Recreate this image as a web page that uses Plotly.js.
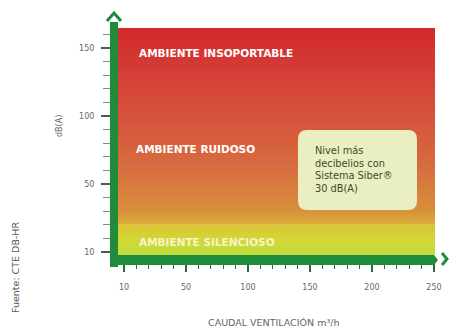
<!DOCTYPE html>
<html><head><meta charset="utf-8">
<script src="https://cdn.plot.ly/plotly-3.0.1.min.js"></script>
<style>html,body{margin:0;padding:0;background:#fff}#c{width:450px;height:328px}</style>
</head><body><div id="c"></div>
<script>
// Data
const xLabels = ['10', '50', '100', '150', '200', '250'];   // CAUDAL VENTILACIÓN m³/h
const yLabels = ['10', '50', '100', '150'];                 // dB(A)
const zoneNames = ['AMBIENTE SILENCIOSO', 'AMBIENTE RUIDOSO', 'AMBIENTE INSOPORTABLE'];
const noteLines = ['Nivel más', 'decibelios con', 'Sistema Siber®', '30 dB(A)'];

const W = 450, H = 328;
const M = {l: 118, r: 15, t: 28, b: 73};
const PW = W - M.l - M.r, PH = H - M.t - M.b;
const px = x => (x - M.l) / PW;         // pixel -> paper
const py = y => (H - M.b - y) / PH;

const xIdx = xLabels.map((_, i) => i);
const yIdx = yLabels.map((_, i) => i);
const xr = [-6 / 62, xIdx.length - 1 + 1 / 62];
const yr = [-3 / 68, yIdx.length - 1 + 20 / 68];
const bandTop = 0.4; // silent band upper limit in axis units

const traces = [
  { // main gradient area
    x: [xr[0], xr[1], xr[1], xr[0], xr[0]],
    y: [bandTop, bandTop, yr[1], yr[1], bandTop],
    mode: 'lines', line: {width: 0}, fill: 'toself', hoverinfo: 'skip', showlegend: false,
    fillgradient: {type: 'vertical', start: bandTop, stop: yr[1],
      colorscale: [[0, '#d9ad38'], [0.08, '#d88e3c'], [0.3, '#d76c40'], [0.55, '#d5523c'], [0.8, '#d43b35'], [1, '#d3292c']]}
  },
  { // silent band
    x: [xr[0], xr[1], xr[1], xr[0], xr[0]],
    y: [yr[0], yr[0], bandTop, bandTop, yr[0]],
    mode: 'lines', line: {width: 0}, fill: 'toself', hoverinfo: 'skip', showlegend: false,
    fillgradient: {type: 'vertical', start: yr[0], stop: bandTop,
      colorscale: [[0, '#bfdc3e'], [0.5, '#d3d836'], [1, '#d9c433']]}
  }
];

const green = '#1f8c3c';
const shapes = [
  // vertical axis bar
  {type: 'rect', xref: 'paper', yref: 'paper', x0: px(110), x1: px(118), y0: py(267), y1: py(22),
   fillcolor: green, line: {width: 0}, layer: 'above'},
  // horizontal axis bar
  {type: 'path', xref: 'paper', yref: 'paper',
   path: `M ${px(110)} ${py(255)} L ${px(434)} ${py(255)} L ${px(438)} ${py(260)} L ${px(434)} ${py(265)} L ${px(110)} ${py(265)} Z`,
   fillcolor: green, line: {width: 0}, layer: 'above'},
  // top chevron
  {type: 'path', xref: 'paper', yref: 'paper',
   path: `M ${px(107)} ${py(21)} L ${px(114)} ${py(13)} L ${px(121)} ${py(21)}`,
   line: {color: green, width: 3}, layer: 'above'},
  // right chevron
  {type: 'path', xref: 'paper', yref: 'paper',
   path: `M ${px(442)} ${py(253)} L ${px(447)} ${py(259)} L ${px(442)} ${py(265)}`,
   line: {color: green, width: 3}, layer: 'above'},
  // note box (rounded)
  (() => {
    const x0 = 298, x1 = 417, y0 = 130, y1 = 210, r = 9;
    const p = `M ${px(x0 + r)} ${py(y0)} L ${px(x1 - r)} ${py(y0)} Q ${px(x1)} ${py(y0)} ${px(x1)} ${py(y0 + r)} ` +
      `L ${px(x1)} ${py(y1 - r)} Q ${px(x1)} ${py(y1)} ${px(x1 - r)} ${py(y1)} ` +
      `L ${px(x0 + r)} ${py(y1)} Q ${px(x0)} ${py(y1)} ${px(x0)} ${py(y1 - r)} ` +
      `L ${px(x0)} ${py(y0 + r)} Q ${px(x0)} ${py(y0)} ${px(x0 + r)} ${py(y0)} Z`;
    return {type: 'path', xref: 'paper', yref: 'paper', path: p, fillcolor: '#e9efc0', line: {width: 0}, layer: 'above'};
  })()
];

const FAM = 'DejaVu Sans, Verdana, sans-serif';
const zf = {family: FAM, size: 10.5, color: '#ffffff', weight: 'bold'};
const annotations = [
  {text: zoneNames[2], xref: 'paper', yref: 'paper', x: px(137), y: py(53), xanchor: 'left', yanchor: 'middle', showarrow: false, font: zf},
  {text: zoneNames[1], xref: 'paper', yref: 'paper', x: px(134), y: py(149), xanchor: 'left', yanchor: 'middle', showarrow: false, font: zf},
  {text: zoneNames[0], xref: 'paper', yref: 'paper', x: px(137), y: py(242), xanchor: 'left', yanchor: 'middle', showarrow: false,
   font: Object.assign({}, zf, {color: '#f7f5c8'})},
  {text: noteLines.join('<br>'), xref: 'paper', yref: 'paper', x: px(313), y: py(143), xanchor: 'left', yanchor: 'top', align: 'left',
   showarrow: false, font: {family: FAM, size: 9.8, color: '#3b4a2c'}},
  {text: 'Fuente: CTE DB-HR', xref: 'paper', yref: 'paper', x: px(15), y: py(268), xanchor: 'center', yanchor: 'middle', textangle: -90, showarrow: false,
   font: {family: FAM, size: 9.5, color: '#555'}},
  {text: 'dB(A)', xref: 'paper', yref: 'paper', x: px(59), y: py(126), xanchor: 'center', yanchor: 'middle', textangle: -90, showarrow: false,
   font: {family: FAM, size: 8, color: '#666'}},
  {text: 'CAUDAL VENTILACIÓN m³/h', xref: 'paper', yref: 'paper', x: px(273), y: py(322), xanchor: 'center', yanchor: 'middle', showarrow: false,
   font: {family: FAM, size: 9.5, color: '#666'}}
];

const tf = {family: FAM, size: 8, color: '#666'};
const layout = {
  width: W, height: H, margin: M, paper_bgcolor: '#fff', plot_bgcolor: '#fff', showlegend: false,
  xaxis: {range: xr, tickvals: xIdx, ticktext: xLabels, showgrid: false, zeroline: false, showline: false,
    ticks: 'outside', ticklen: 16, tickwidth: 1.5, tickcolor: '#2a6a38', tickfont: tf, ticklabelstandoff: 8,
    minor: {dtick: 0.2, ticks: 'outside', ticklen: 13, tickcolor: '#2a6a38', tickwidth: 1, showgrid: false},
    fixedrange: true},
  yaxis: {range: yr, tickvals: yIdx, ticktext: yLabels, showgrid: false, zeroline: false, showline: false,
    ticks: 'outside', ticklen: 16, tickwidth: 1.5, tickcolor: '#555', tickfont: tf, ticklabelstandoff: 5,
    minor: {dtick: 0.2, ticks: 'outside', ticklen: 14, tickcolor: '#888', tickwidth: 1, showgrid: false},
    fixedrange: true},
  shapes: shapes, annotations: annotations
};
Plotly.newPlot('c', traces, layout, {displayModeBar: false, staticPlot: true});
</script></body></html>
